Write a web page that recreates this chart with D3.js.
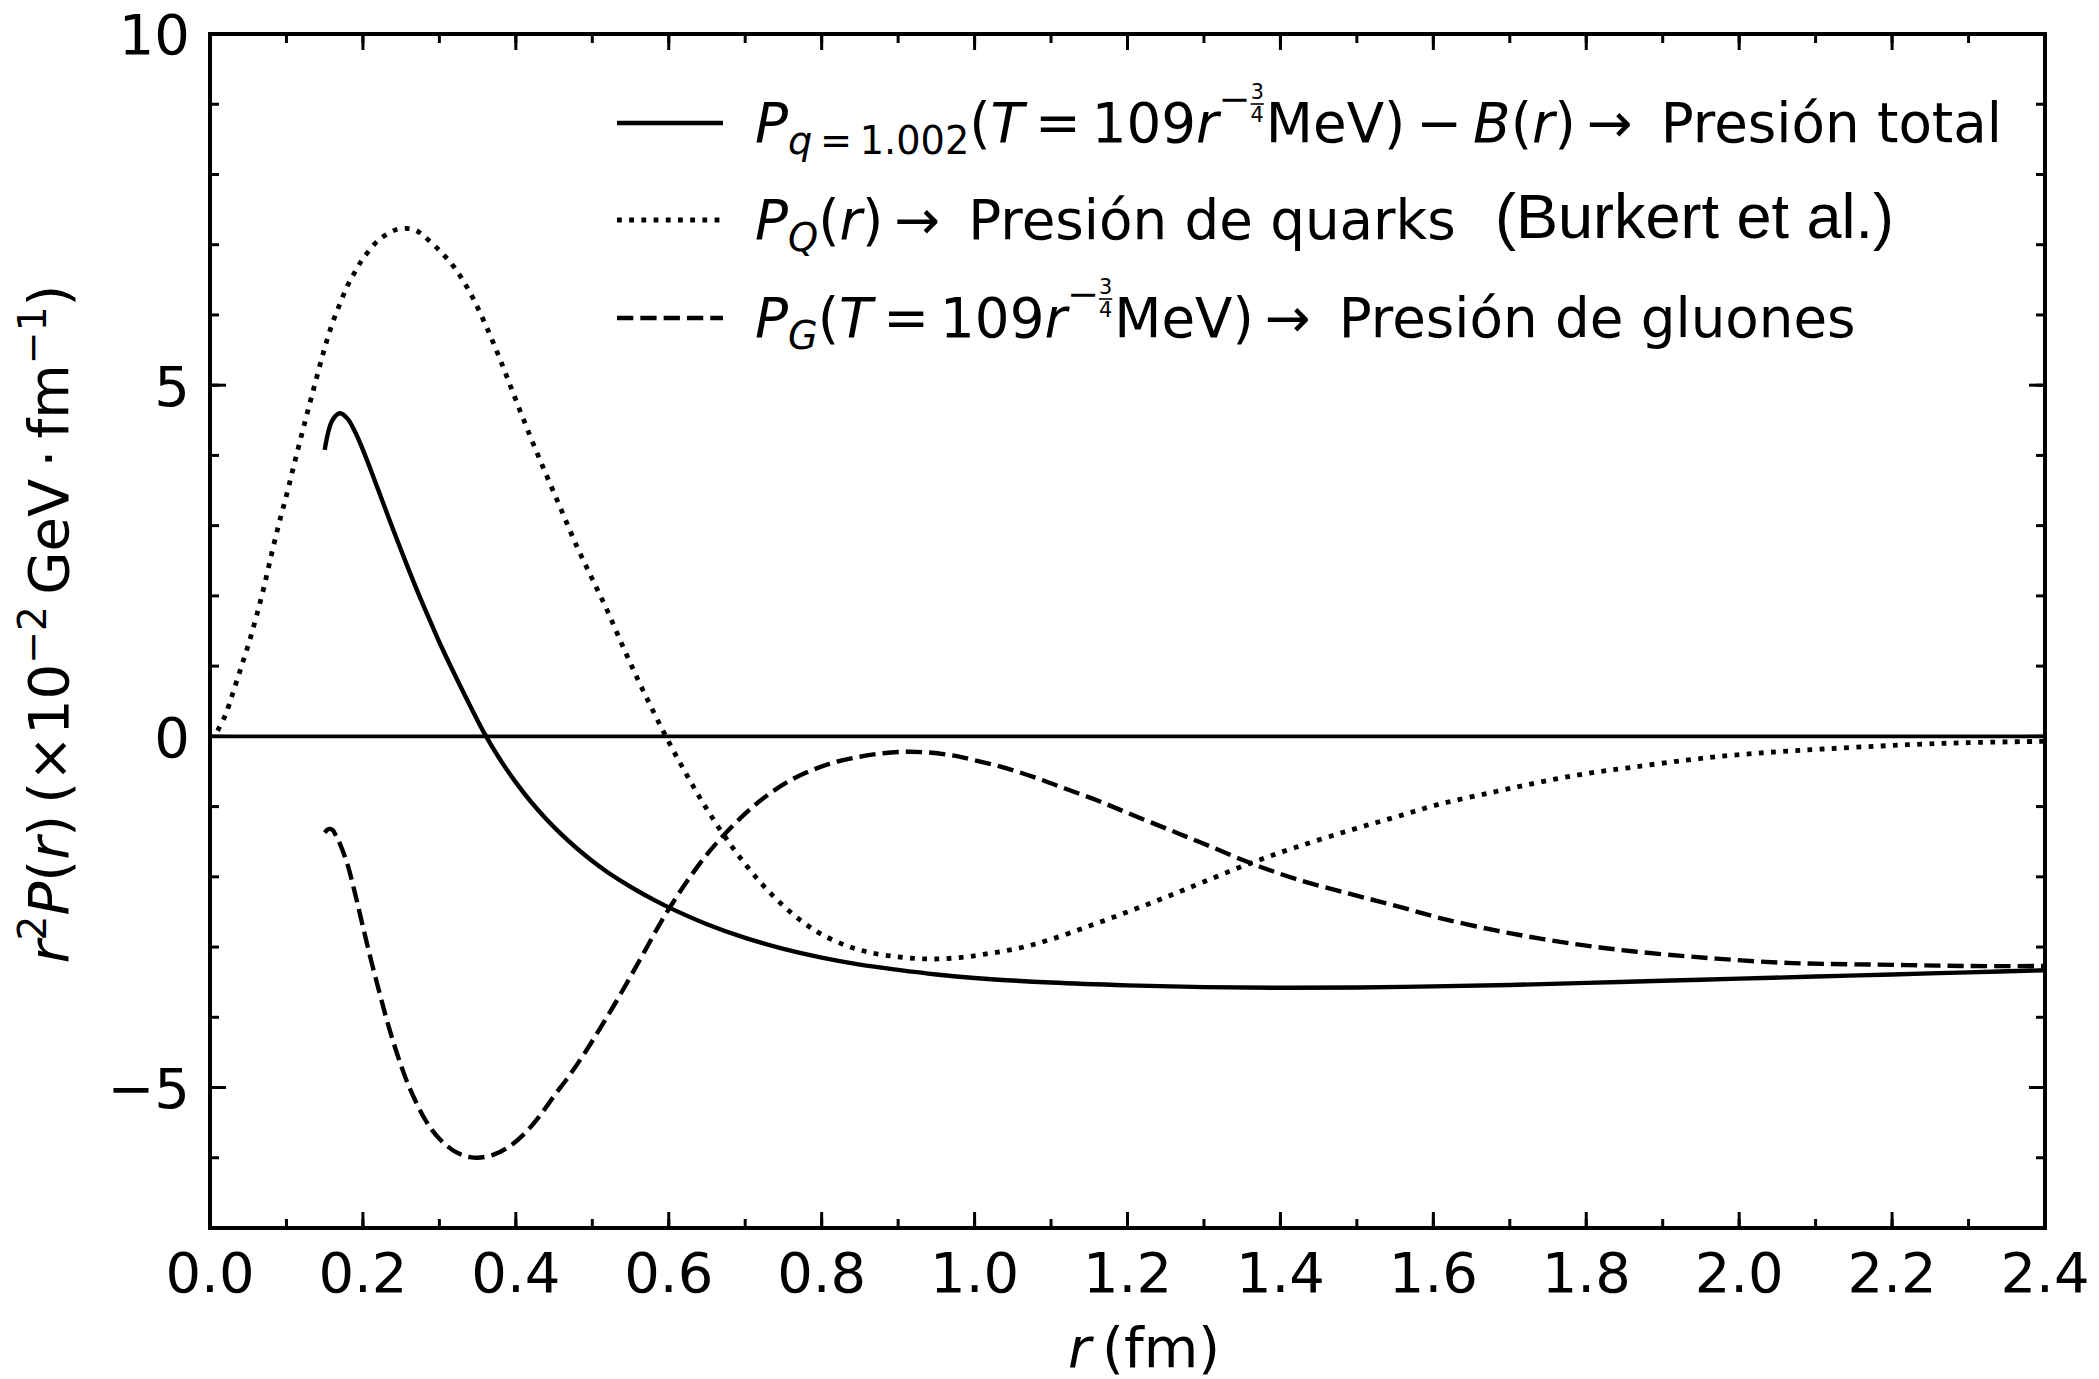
<!DOCTYPE html>
<html>
<head>
<meta charset="utf-8">
<script src="https://cdn.jsdelivr.net/npm/d3@7"></script>
<style>
  body { margin: 0; background: #fff; }
  svg { display: block; }
  text { font-family: "DejaVu Sans", sans-serif; fill: #000; }
  text.note { font-family: "Liberation Sans", Arial, sans-serif; }
</style>
</head>
<body>
<div id="chart"></div>
<script>
// r (fm) and r^2 P(r) values (x10^-2 GeV/fm)
const totalR = [0.15, 0.16, 0.17, 0.18, 0.19, 0.20, 0.21, 0.22, 0.23, 0.24, 0.25, 0.26, 0.27, 0.28, 0.29, 0.30, 0.32, 0.34, 0.36, 0.38, 0.40, 0.42, 0.44, 0.46, 0.48, 0.50, 0.52, 0.54, 0.56, 0.58, 0.60, 0.65, 0.70, 0.75, 0.80, 0.85, 0.90, 0.95, 1.00, 1.10, 1.20, 1.30, 1.40, 1.50, 1.60, 1.70, 1.80, 1.90, 2.00, 2.10, 2.20, 2.30, 2.40]
const totalP = [4.08, 4.50, 4.60, 4.52, 4.33, 4.08, 3.80, 3.51, 3.22, 2.93, 2.65, 2.37, 2.10, 1.84, 1.59, 1.34, 0.88, 0.44, 0.02, -0.34, -0.655, -0.935, -1.18, -1.40, -1.597, -1.774, -1.934, -2.075, -2.205, -2.324, -2.435, -2.675, -2.87, -3.025, -3.15, -3.25, -3.325, -3.39, -3.44, -3.505, -3.545, -3.57, -3.58, -3.575, -3.56, -3.54, -3.51, -3.48, -3.45, -3.42, -3.39, -3.36, -3.33]

const quarkR = [0.01, 0.02, 0.03, 0.04, 0.05, 0.06, 0.07, 0.08, 0.09, 0.10, 0.11, 0.12, 0.13, 0.14, 0.15, 0.16, 0.17, 0.18, 0.19, 0.20, 0.22, 0.24, 0.25, 0.26, 0.27, 0.28, 0.30, 0.32, 0.34, 0.36, 0.38, 0.40, 0.42, 0.44, 0.46, 0.48, 0.50, 0.52, 0.54, 0.56, 0.58, 0.60, 0.62, 0.64, 0.66, 0.68, 0.70, 0.72, 0.74, 0.76, 0.78, 0.80, 0.83, 0.86, 0.90, 0.94, 0.98, 1.02, 1.06, 1.10, 1.15, 1.20, 1.25, 1.30, 1.36, 1.42, 1.49, 1.55, 1.61, 1.68, 1.74, 1.80, 1.86, 1.93, 1.99, 2.05, 2.11, 2.18, 2.24, 2.30, 2.40]
const quarkP = [0.08, 0.30, 0.62, 0.96, 1.30, 1.68, 2.10, 2.57, 3.02, 3.43, 3.87, 4.30, 4.72, 5.13, 5.53, 5.88, 6.16, 6.42, 6.62, 6.80, 7.06, 7.20, 7.23, 7.23, 7.20, 7.12, 6.92, 6.67, 6.32, 5.87, 5.35, 4.79, 4.24, 3.72, 3.21, 2.70, 2.24, 1.78, 1.28, 0.80, 0.35, -0.08, -0.48, -0.86, -1.21, -1.53, -1.82, -2.08, -2.31, -2.51, -2.68, -2.82, -2.97, -3.07, -3.14, -3.17, -3.15, -3.09, -3.01, -2.89, -2.70, -2.50, -2.29, -2.07, -1.81, -1.58, -1.34, -1.15, -0.96, -0.79, -0.65, -0.53, -0.44, -0.34, -0.27, -0.22, -0.18, -0.14, -0.11, -0.09, -0.07]

const gluonR = [0.150, 0.155, 0.160, 0.165, 0.17, 0.18, 0.19, 0.20, 0.21, 0.22, 0.23, 0.24, 0.25, 0.26, 0.27, 0.28, 0.29, 0.30, 0.31, 0.32, 0.33, 0.34, 0.35, 0.37, 0.39, 0.41, 0.43, 0.45, 0.47, 0.49, 0.51, 0.53, 0.55, 0.57, 0.59, 0.61, 0.63, 0.65, 0.67, 0.70, 0.73, 0.76, 0.79, 0.82, 0.85, 0.88, 0.91, 0.94, 0.97, 1.00, 1.04, 1.08, 1.12, 1.16, 1.20, 1.25, 1.30, 1.36, 1.42, 1.49, 1.55, 1.61, 1.68, 1.74, 1.80, 1.86, 1.93, 1.99, 2.05, 2.11, 2.18, 2.24, 2.30, 2.40]
const gluonP = [-1.37, -1.32, -1.33, -1.42, -1.53, -1.83, -2.25, -2.71, -3.16, -3.58, -3.99, -4.36, -4.69, -4.98, -5.22, -5.43, -5.60, -5.73, -5.83, -5.91, -5.96, -5.99, -6.00, -5.96, -5.85, -5.67, -5.42, -5.12, -4.83, -4.51, -4.16, -3.80, -3.42, -3.03, -2.64, -2.29, -1.97, -1.68, -1.43, -1.10, -0.83, -0.62, -0.47, -0.36, -0.29, -0.24, -0.22, -0.23, -0.27, -0.34, -0.45, -0.59, -0.75, -0.91, -1.09, -1.31, -1.53, -1.80, -2.03, -2.24, -2.41, -2.59, -2.76, -2.88, -2.98, -3.06, -3.13, -3.18, -3.22, -3.24, -3.25, -3.26, -3.27, -3.27]

const xTicks = [0.0, 0.2, 0.4, 0.6, 0.8, 1.0, 1.2, 1.4, 1.6, 1.8, 2.0, 2.2, 2.4]
const yTicks = [-5, 0, 5, 10]
const xDomain = [0, 2.4]
const yDomain = [-7, 10]

const width = 2099, height = 1379
const m = {left: 210, right: 2045, top: 34, bottom: 1228}
const lw = 4.4
const dotted = '4.8 7.4', dashed = `${lw * 3.7} ${lw * 1.6}`

const x = d3.scaleLinear().domain(xDomain).range([m.left, m.right])
const y = d3.scaleLinear().domain(yDomain).range([m.bottom, m.top])

const svg = d3.select('#chart').append('svg')
  .attr('width', width)
  .attr('height', height)

svg.append('defs').append('clipPath').attr('id', 'plot')
  .append('rect')
  .attr('x', m.left).attr('y', m.top)
  .attr('width', m.right - m.left).attr('height', m.bottom - m.top)

const series = [
  {r: totalR, p: totalP, dash: null, w: lw},
  {r: quarkR, p: quarkP, dash: dotted, w: lw + 0.4},
  {r: gluonR, p: gluonP, dash: dashed, w: lw}
]

const line = d3.line()
  .x(d => x(d[0]))
  .y(d => y(d[1]))
  .curve(d3.curveCatmullRom.alpha(0.5))

const plot = svg.append('g').attr('clip-path', 'url(#plot)')

// zero reference line
plot.append('line')
  .attr('x1', x(xDomain[0])).attr('x2', x(xDomain[1]))
  .attr('y1', y(0)).attr('y2', y(0))
  .attr('stroke', '#000').attr('stroke-width', lw * 0.85)

plot.selectAll('path.curve')
  .data(series)
  .join('path')
  .attr('class', 'curve')
  .attr('d', s => line(s.r.map((r, i) => [r, s.p[i]])))
  .attr('fill', 'none')
  .attr('stroke', '#000')
  .attr('stroke-width', s => s.w)
  .attr('stroke-dasharray', s => s.dash)

// ticks pointing inwards on all four sides
const majorLen = 16, minorLen = 9
const xMinor = d3.range(0, 2.4001, 0.1)
const yMinor = d3.range(-7, 10.001, 1)
const ticks = svg.append('g').attr('stroke', '#000').attr('stroke-width', 3)

function addTicks(vals, len, isX) {
  vals.forEach(v => {
    if (isX) {
      const px = x(v)
      ticks.append('line').attr('x1', px).attr('x2', px).attr('y1', m.bottom).attr('y2', m.bottom - len)
      ticks.append('line').attr('x1', px).attr('x2', px).attr('y1', m.top).attr('y2', m.top + len)
    } else {
      const py = y(v)
      ticks.append('line').attr('y1', py).attr('y2', py).attr('x1', m.left).attr('x2', m.left + len)
      ticks.append('line').attr('y1', py).attr('y2', py).attr('x1', m.right).attr('x2', m.right - len)
    }
  })
}
addTicks(xMinor, minorLen, true)
addTicks(xTicks, majorLen, true)
addTicks(yMinor, minorLen, false)
addTicks(yTicks, majorLen, false)

svg.append('rect')
  .attr('x', m.left).attr('y', m.top)
  .attr('width', m.right - m.left).attr('height', m.bottom - m.top)
  .attr('fill', 'none').attr('stroke', '#000').attr('stroke-width', 4)

const tickFont = 56
svg.append('g').selectAll('text')
  .data(xTicks)
  .join('text')
  .attr('x', d => x(d))
  .attr('y', 1292)
  .attr('text-anchor', 'middle')
  .attr('font-size', tickFont)
  .text(d => d.toFixed(1))

svg.append('g').selectAll('text')
  .data(yTicks)
  .join('text')
  .attr('x', 190)
  .attr('y', d => y(d) + tickFont * 0.364)
  .attr('text-anchor', 'end')
  .attr('font-size', tickFont)
  .text(d => d < 0 ? '\u2212' + Math.abs(d) : String(d))

// rich text helper: parts carry baseline offset b (px), scale s, italic i, back dx
function rich(g, parts, base, attrs) {
  const t = g.append('text').attr('font-size', base)
  Object.entries(attrs || {}).forEach(([k, v]) => t.attr(k, v))
  let cur = 0
  parts.forEach(p => {
    const b = p.b || 0
    const ts = t.append('tspan')
      .attr('font-size', base * (p.s || 1))
      .attr('dy', b - cur)
      .text(p.t)
    if (p.i) ts.attr('font-style', 'italic')
    if (p.dx) ts.attr('dx', p.dx)
    if (p.cls) ts.attr('class', p.cls)
    cur = b
  })
  return t
}

const lf = 54.7
const sub = 0.7
const frac = [
  {t: '\u2212', s: sub, b: -30},
  {t: '3', s: 0.38, b: -43, cls: 'num'},
  {t: '4', s: 0.38, b: -20, dx: -lf * 0.38 * 0.636},
  {t: 'MeV', b: 0, dx: 2}
]
const legendRows = [
  [
    {t: 'P', i: 1}, {t: 'q', i: 1, s: sub, b: 12}, {t: '\u2009=\u20091.002', s: sub, b: 12},
    {t: '(', b: 0}, {t: 'T', i: 1}, {t: '\u2009=\u2009109'}, {t: 'r', i: 1}, ...frac,
    {t: ')\u2009\u2212\u2009'}, {t: 'B', i: 1}, {t: '('}, {t: 'r', i: 1}, {t: ')\u2009\u2192\u2009 Presi\u00f3n total'}
  ],
  [
    {t: 'P', i: 1}, {t: 'Q', i: 1, s: sub, b: 12}, {t: '(', b: 0}, {t: 'r', i: 1}, {t: ')\u2009\u2192\u2009 Presi\u00f3n de quarks'}
  ],
  [
    {t: 'P', i: 1}, {t: 'G', i: 1, s: sub, b: 12}, {t: '(', b: 0}, {t: 'T', i: 1}, {t: '\u2009=\u2009109'}, {t: 'r', i: 1}, ...frac,
    {t: ')\u2009\u2192\u2009 Presi\u00f3n de gluones'}
  ]
]
const legendY = [123, 220, 318]
const legendDash = [null, dotted, dashed]
const legend = svg.append('g')
legendRows.forEach((row, i) => {
  legend.append('line')
    .attr('x1', 617).attr('x2', 723)
    .attr('y1', legendY[i]).attr('y2', legendY[i])
    .attr('stroke', '#000').attr('stroke-width', series[i].w)
    .attr('stroke-dasharray', legendDash[i])
  const t = rich(legend, row, lf, {x: 755, y: legendY[i] + 19})
  // fraction bar under the numerator
  t.selectAll('tspan.num').each(function() {
    const bb = this.getBBox()
    legend.append('line')
      .attr('x1', bb.x).attr('x2', bb.x + bb.width)
      .attr('y1', legendY[i] + 19 - 38).attr('y2', legendY[i] + 19 - 38)
      .attr('stroke', '#000').attr('stroke-width', 1.6)
  })
})
legend.append('text')
  .attr('class', 'note')
  .attr('x', 1495).attr('y', 238)
  .attr('font-size', 63)
  .text('(Burkert et al.)')

// axis labels
rich(svg, [{t: 'r', i: 1}, {t: '\u2009(fm)'}], 56, {x: 1144, y: 1367, 'text-anchor': 'middle'})

rich(svg, [
  {t: 'r', i: 1}, {t: '2', s: sub, b: -22}, {t: 'P', i: 1, b: 0}, {t: '('}, {t: 'r', i: 1}, {t: ')\u2009(\u00d710'},
  {t: '\u22122', s: sub, b: -22}, {t: '\u2009GeV\u2009\u00b7\u2009fm', b: 0}, {t: '\u22121', s: sub, b: -22}, {t: ')', b: 0}
], 56, {'text-anchor': 'middle', transform: 'translate(68,624) rotate(-90)'})
</script>
</body>
</html>
